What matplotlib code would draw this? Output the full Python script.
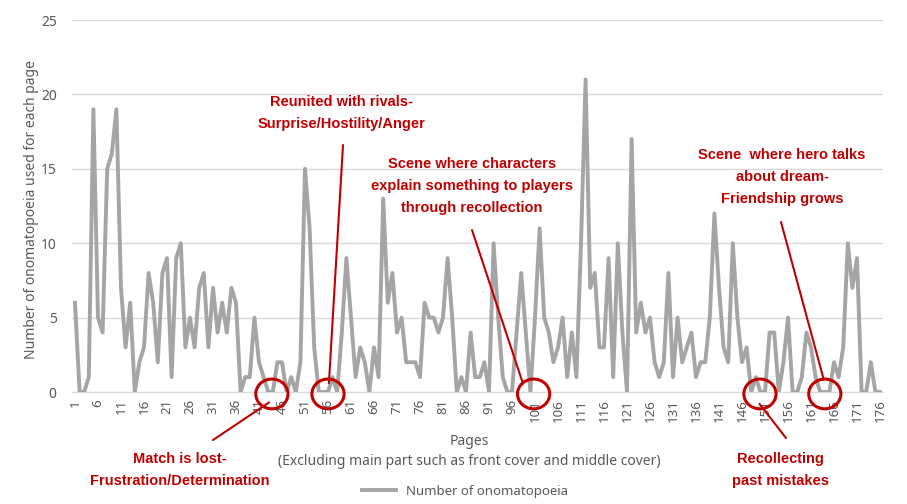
import matplotlib.pyplot as plt
from matplotlib.patches import Ellipse

# onomatopoeia count per page
pages = list(range(1, 177))
counts = [
  6, 0, 0, 1, 19, 5, 4, 15, 16, 19,
  7, 3, 6, 0, 2, 3, 8, 6, 2, 8,
  9, 1, 9, 10, 3, 5, 3, 7, 8, 3,
  7, 4, 6, 4, 7, 6, 0, 1, 1, 5,
  2, 1, 0, 0, 2, 2, 0, 1, 0, 2,
  15, 11, 3, 0, 0, 0, 1, 0, 4, 9,
  5, 1, 3, 2, 0, 3, 1, 13, 6, 8,
  4, 5, 2, 2, 2, 1, 6, 5, 5, 4,
  5, 9, 5, 0, 1, 0, 4, 1, 1, 2,
  0, 10, 5, 1, 0, 0, 4, 8, 4, 0,
  5, 11, 5, 4, 2, 3, 5, 1, 4, 1,
  10, 21, 7, 8, 3, 3, 9, 1, 10, 4,
  0, 17, 4, 6, 4, 5, 2, 1, 2, 8,
  1, 5, 2, 3, 4, 1, 2, 2, 5, 12,
  7, 3, 2, 10, 5, 2, 3, 0, 1, 0,
  0, 4, 4, 0, 2, 5, 0, 0, 1, 4,
  3, 1, 0, 0, 0, 2, 1, 3, 10, 7,
  9, 0, 0, 2, 0, 0,
]
tick_pages = list(range(1, 177, 5))
circled_pages = [43.8, 56, 100.7, 149.9, 164]

RED = '#C00000'
GREY_TXT = '#595959'

plt.rcParams['font.family'] = ['Noto Sans', 'DejaVu Sans']

fig = plt.figure(figsize=(9.07, 5.04), dpi=100)
ax = fig.add_axes([72 / 907, 1 - 392 / 504, 811 / 907, 372 / 504])

ax.plot(pages, counts, color='#A5A5A5', lw=2.8, solid_joinstyle='round',
        label='Number of onomatopoeia', zorder=3)

ax.set_xlim(0.35, 176.65)
ax.set_ylim(0, 25)
ax.set_yticks(range(0, 26, 5))
ax.set_xticks(tick_pages)
ax.set_xticklabels([str(p) for p in tick_pages], rotation=90)
ax.tick_params(axis='both', length=0, colors=GREY_TXT, labelsize=9.5)
ax.tick_params(axis='y', pad=11, labelsize=10)
ax.tick_params(axis='x', pad=5)
ax.grid(axis='y', color='#D9D9D9', lw=1)
ax.set_axisbelow(True)
for s in ['top', 'right', 'left']:
  ax.spines[s].set_visible(False)
ax.spines['bottom'].set_color('#D9D9D9')

ax.set_ylabel('Number of onomatopoeia used for each page', color=GREY_TXT, fontsize=10)
ax.yaxis.set_label_coords(-0.041, 0.49)
ax.set_xlabel('Pages\n(Excluding main part such as front cover and middle cover)',
              color=GREY_TXT, fontsize=10, linespacing=1.5)
ax.xaxis.set_label_coords(0.49, -0.112)

# red circles on the quiet pages
for p in circled_pages:
  ax.add_patch(Ellipse((p, -0.13), 7.0, 2.0, fill=False, ec=RED, lw=2.2,
                       clip_on=False, zorder=5))

# annotation texts and leader lines
notes = [
  ('Reunited with rivals-\nSurprise/Hostility/Anger', 342, 113, (56.2, 0.6), (343, 145)),
  ('Scene where characters\nexplain something to players\nthrough recollection', 472, 186, (98.4, 0.55), (472, 230)),
  ('Scene  where hero talks\nabout dream-\nFriendship grows', 782, 177, (163.8, 0.8), (781, 222)),
  ('Match is lost-\nFrustration/Determination', 180, 470, (43.2, -0.7), (213, 440)),
  ('Recollecting\npast mistakes', 780, 470, (149.8, -0.8), (786, 438)),
]
for text, tx, ty, end, start in notes:
  fig.text(tx / 907, 1 - ty / 504, text, color=RED, fontsize=10.5, fontweight='bold',
           family=['Liberation Sans', 'DejaVu Sans'],
           ha='center', va='center', linespacing=1.7)
  ax.annotate('', xy=end, xytext=(start[0] / 907, 1 - start[1] / 504),
              textcoords='figure fraction', annotation_clip=False,
              arrowprops=dict(arrowstyle='-', color=RED, lw=1.5, shrinkA=0, shrinkB=0))

fig.legend(loc='center', bbox_to_anchor=(465 / 907, 1 - 491 / 504), frameon=False,
           fontsize=9.5, labelcolor=GREY_TXT, handlelength=2.6)

plt.savefig('out.png', dpi=100)
